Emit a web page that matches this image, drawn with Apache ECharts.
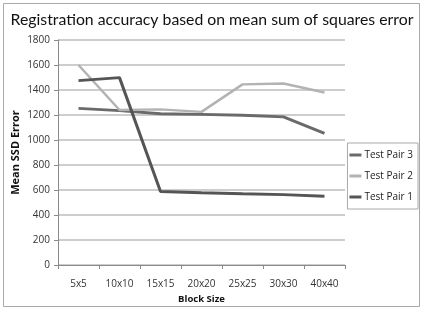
<!DOCTYPE html>
<html><head><meta charset="utf-8">
<script src="https://cdn.jsdelivr.net/npm/echarts@6/dist/echarts.min.js"></script>
<style>html,body{margin:0;padding:0;background:#fff}#c{width:424px;height:311px}</style>
</head><body><div id="c"></div>
<script>
const categories = ['5x5','10x10','15x15','20x20','25x25','30x30','40x40'];
const pair3 = [1253, 1235, 1210, 1205, 1198, 1185, 1053];
const pair2 = [1600, 1240, 1245, 1225, 1445, 1452, 1380];
const pair1 = [1475, 1499, 588, 578, 570, 563, 550];
const yTicks = {min: 0, max: 1800, interval: 200};

const chart = echarts.init(document.getElementById('c'));
const font = 'Open Sans';
chart.setOption({
  animation: false,
  graphic: [{type:'rect', shape:{x:3.5,y:3.5,width:416,height:303}, style:{fill:'none', stroke:'#a8a8a8', lineWidth:1}}],
  title: {text:'Registration accuracy based on mean sum of squares error', left:'center', top:7,
    textStyle:{fontFamily:'Lato', fontSize:15.8, fontWeight:'normal', color:'#111'}},
  grid: {left:58, right:79, top:40, bottom:46, outerBoundsMode:'none', containLabel:false},
  legend: {orient:'vertical', right:6, top:143, itemWidth:12, itemHeight:3, itemGap:11,
    padding:[7,5,7,2], borderColor:'#a8a8a8', borderWidth:1,
    icon:'rect',
    textStyle:{fontFamily:font, fontSize:10, color:'#222', padding:[0,0,0,-2]},
    data:['Test Pair 3','Test Pair 2','Test Pair 1']},
  xAxis: {type:'category', data:categories, boundaryGap:true,
    name:'Block Size', nameLocation:'middle', nameGap:29, nameMoveOverlap:false,
    nameTextStyle:{fontFamily:font, fontSize:9.5, fontWeight:'bold', color:'#111'},
    axisLine:{lineStyle:{color:'#8a8a8a', width:1}},
    axisTick:{show:true, inside:false, length:4, lineStyle:{color:'#8a8a8a'}},
    axisLabel:{fontFamily:font, fontSize:10, color:'#333', margin:14}},
  yAxis: {type:'value', min:yTicks.min, max:yTicks.max, interval:yTicks.interval,
    name:'Mean SSD Error', nameLocation:'middle', nameGap:37, nameRotate:90, nameMoveOverlap:false,
    nameTextStyle:{fontFamily:font, fontSize:11, fontWeight:'bold', color:'#111'},
    axisLine:{show:true, lineStyle:{color:'#8a8a8a', width:1}},
    axisTick:{show:true, length:4, lineStyle:{color:'#8a8a8a'}},
    axisLabel:{fontFamily:font, fontSize:10, color:'#333', margin:8, formatter:v=>String(v)},
    splitLine:{lineStyle:{color:'#bdbdbd', width:1.5}}},
  series: [
    {name:'Test Pair 3', type:'line', data:pair3, symbol:'none', lineStyle:{color:'#6a6a6a', width:3}, itemStyle:{color:'#6a6a6a'}},
    {name:'Test Pair 2', type:'line', data:pair2, symbol:'none', lineStyle:{color:'#b3b3b3', width:2.5}, itemStyle:{color:'#b3b3b3'}},
    {name:'Test Pair 1', type:'line', data:pair1, symbol:'none', lineStyle:{color:'#555555', width:3}, itemStyle:{color:'#555555'}}
  ]
});
</script></body></html>
